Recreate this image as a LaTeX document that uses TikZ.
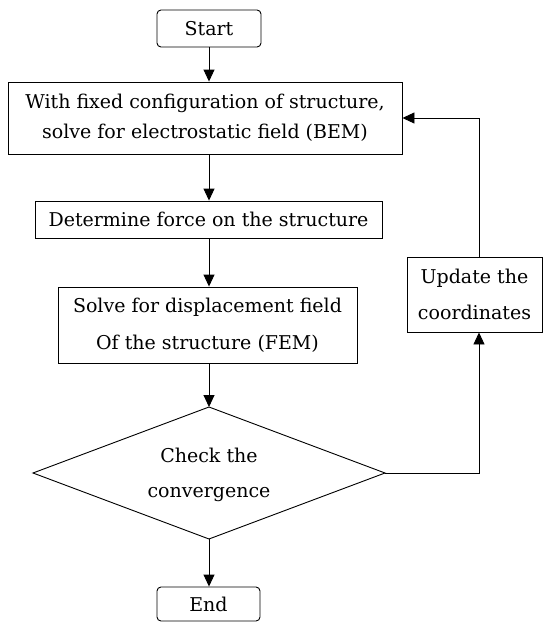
\documentclass[tikz,border=0pt]{standalone}
\usepackage{fontspec}
\setmainfont{DejaVu Serif}
\usetikzlibrary{arrows.meta}
\begin{document}
\begin{tikzpicture}[x=1pt,y=-1pt,
  box/.style={draw, line width=0.9pt, inner sep=0pt, align=center, font=\fontsize{19}{30}\selectfont},
  txt/.style={inner sep=0pt, align=center, font=\fontsize{19}{35}\selectfont},
  arr/.style={-{Triangle[length=12pt,width=11pt]}, line width=0.9pt},
  line/.style={line width=0.9pt}]
\useasboundingbox (0,0) rectangle (543,622);
\node[box, rounded corners=4pt, minimum width=104pt, minimum height=37pt] (start) at (209,28.5) {Start};
\node[box, minimum width=394pt, minimum height=72pt] (bem) at (205,118) {With fixed configuration of structure,\\solve for electrostatic field (BEM)};
\node[box, minimum width=347pt, minimum height=37pt] (force) at (208.5,219.5) {Determine force on the structure};
\node[box, font=\fontsize{19}{37}\selectfont, minimum width=299pt, minimum height=76pt] (fem) at (207.5,325) {Solve for displacement field\\Of the structure (FEM)};
\coordinate (cn) at (209,407);
\coordinate (ce) at (385,473);
\coordinate (cs) at (209,539);
\coordinate (cw) at (33,473);
\draw[line] (cn) -- (ce) -- (cs) -- (cw) -- cycle;
\node[txt] (conv) at (209,475) {Check the\\convergence};
\node[box, font=\fontsize{19}{36}\selectfont, minimum width=135pt, minimum height=75pt] (upd) at (474.5,294.5) {Update the\\coordinates};
\node[box, rounded corners=4pt, minimum width=103pt, minimum height=34pt] (end) at (208.5,604) {End};
\coordinate (fb) at (479,473);
\draw[arr] (start.south) -- (start.south |- bem.north);
\draw[arr] (start.south |- bem.south) -- (start.south |- force.north);
\draw[arr] (start.south |- force.south) -- (start.south |- fem.north);
\draw[arr] (start.south |- fem.south) -- (cn);
\draw[arr] (cs) -- (cs |- end.north);
\draw[arr] (ce) -- (fb) -- (fb |- upd.south);
\draw[arr] (fb |- upd.north) |- (bem.east);
\end{tikzpicture}
\end{document}
